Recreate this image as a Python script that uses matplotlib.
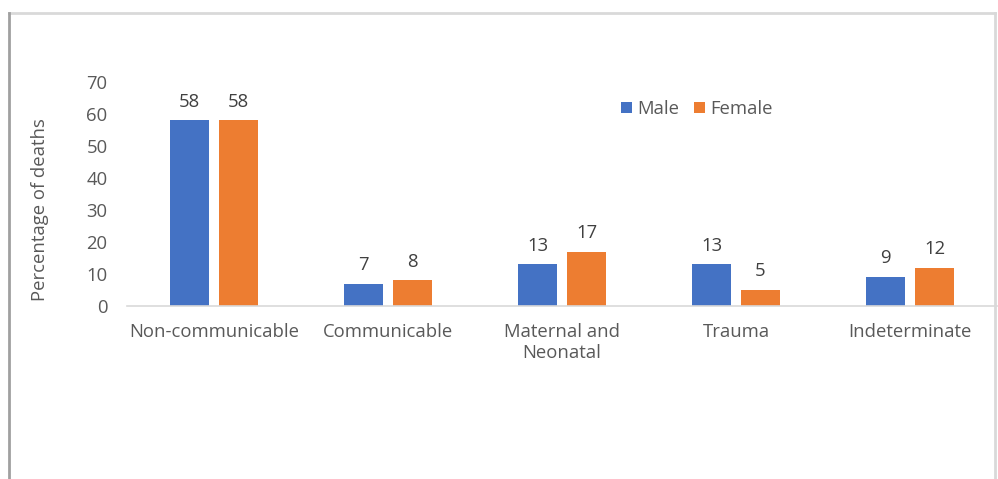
import matplotlib.pyplot as plt
from matplotlib.lines import Line2D
import numpy as np

categories = ['Non-communicable', 'Communicable', 'Maternal and\nNeonatal', 'Trauma', 'Indeterminate']
male = [58, 7, 13, 13, 9]
female = [58, 8, 17, 5, 12]

plt.rcParams['font.family'] = ['Open Sans', 'DejaVu Sans']
txt = '#595959'
fs = 13.3
W, H = 998, 479

fig = plt.figure(figsize=(W / 100, H / 100), dpi=100)
ax = fig.add_axes([127 / W, 1 - 306 / H, (997 - 127) / W, (306 - 82) / H])

x = np.arange(len(categories))
bw = 0.224
off = 0.141
b1 = ax.bar(x - off, male, bw, color='#4472c4', label='Male')
b2 = ax.bar(x + off, female, bw, color='#ed7d31', label='Female')
for bars in (b1, b2):
    for b in bars:
        ax.annotate(str(int(b.get_height())), (b.get_x() + b.get_width() / 2, b.get_height()),
                    xytext=(0, 7), textcoords='offset points', ha='center', va='bottom',
                    fontsize=fs, color='#404040')

ax.set_xlim(-0.5, len(categories) - 0.5)
ax.set_ylim(0, 70)
ax.set_yticks(range(0, 71, 10))
ax.set_xticks(x)
ax.set_xticklabels(categories, fontsize=fs, color=txt, linespacing=1.2)
ax.tick_params(axis='y', length=0, pad=14, labelsize=fs, labelcolor=txt)
ax.tick_params(axis='x', length=0, pad=12.5)
for s in ['top', 'right', 'left']:
    ax.spines[s].set_visible(False)
ax.spines['bottom'].set_color('#d9d9d9')
ax.spines['bottom'].set_linewidth(1.2)
fig.text(40 / W, 1 - 210 / H, 'Percentage of deaths', rotation=90, ha='center', va='center',
         fontsize=fs, color=txt)

fig.legend(loc='center left', bbox_to_anchor=(604 / W, 1 - 109 / H), frameon=False, ncol=2,
           fontsize=fs, labelcolor=txt, handlelength=0.6, handleheight=0.6,
           handletextpad=0.3, columnspacing=0.8)

# outer frame
fig.add_artist(Line2D([9 / W, 995 / W], [1 - 13 / H, 1 - 13 / H], color='#d9d9d9', lw=2))
fig.add_artist(Line2D([9 / W, 9 / W], [0, 1 - 13 / H], color='#a0a0a0', lw=2))
fig.add_artist(Line2D([995 / W, 995 / W], [0, 1 - 13 / H], color='#d9d9d9', lw=2))

fig.savefig('out.png', dpi=100)
